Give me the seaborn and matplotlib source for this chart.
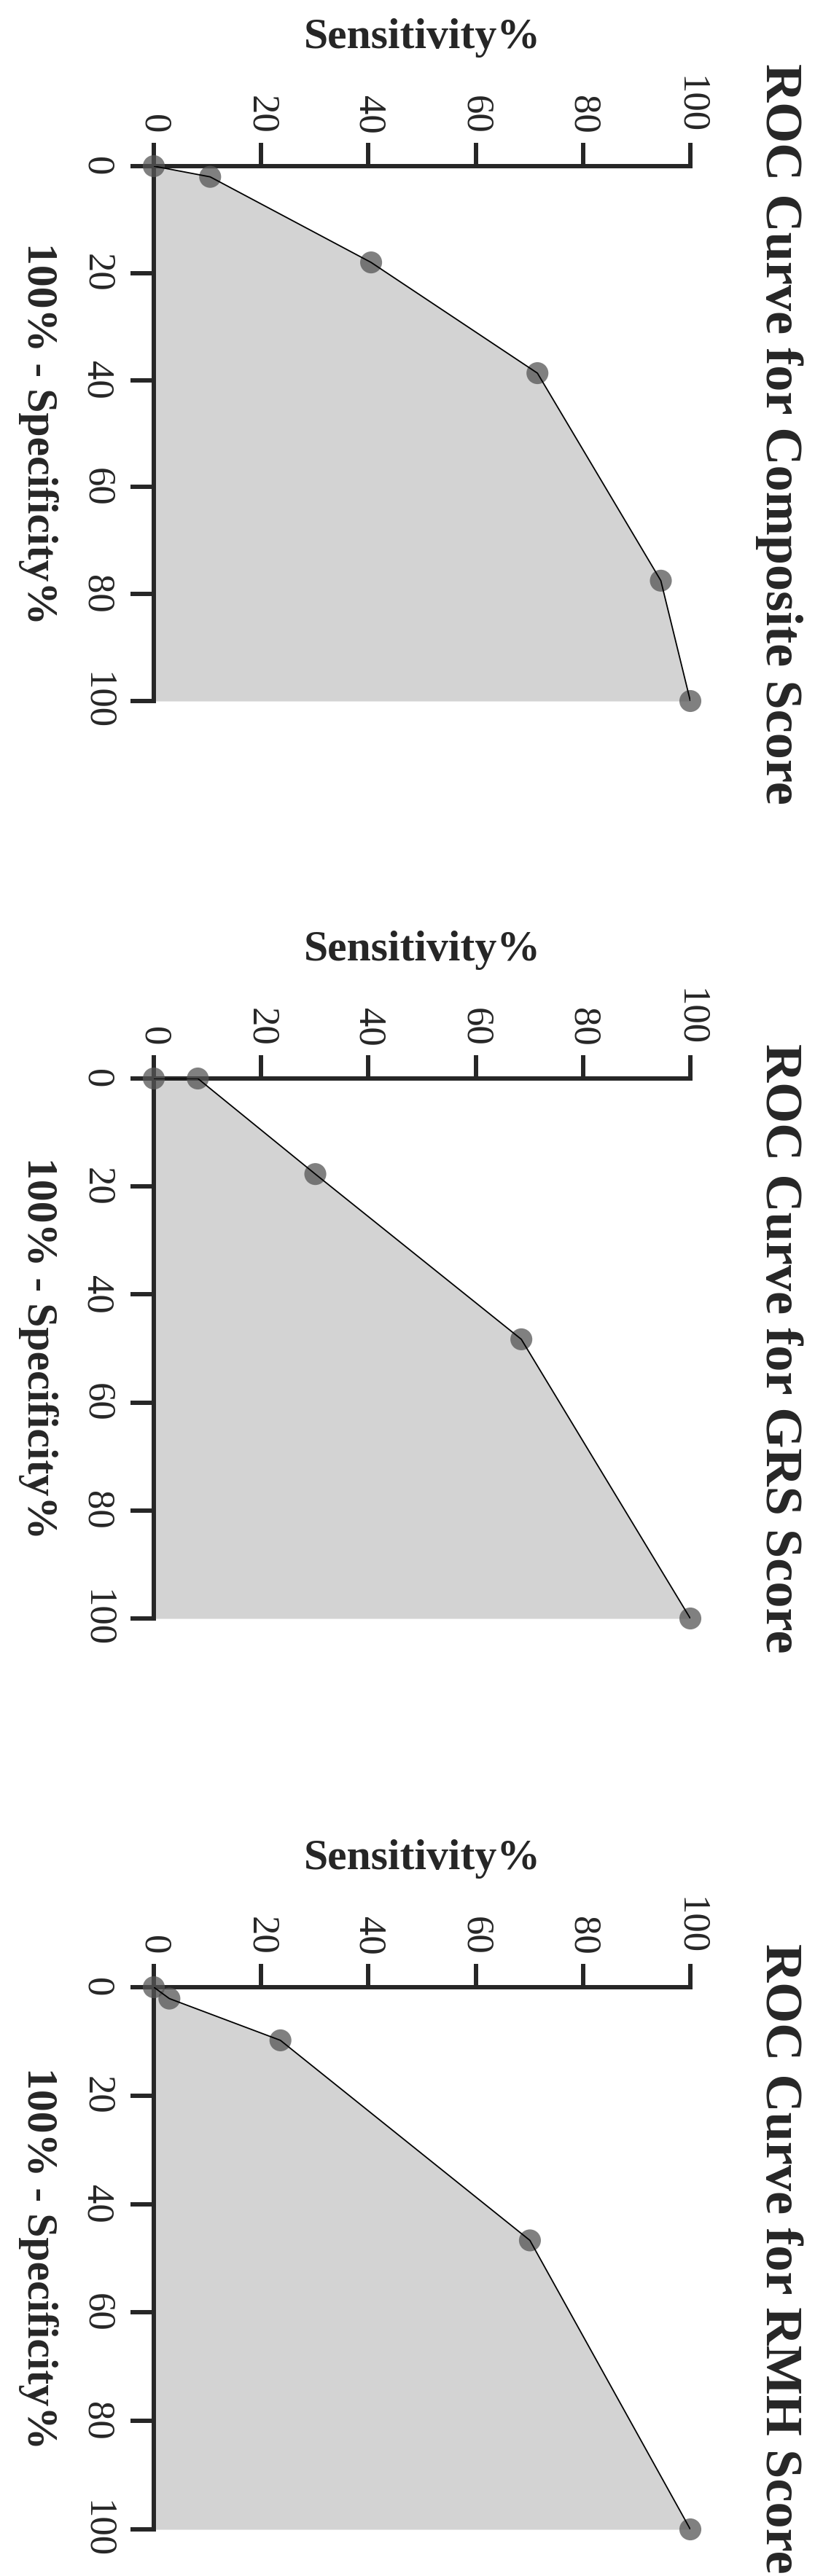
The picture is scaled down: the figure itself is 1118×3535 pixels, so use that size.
import numpy as np
import pandas as pd
import seaborn as sns
import matplotlib.pyplot as plt

# ROC points: 100% - Specificity% and Sensitivity%
titles = ['ROC Curve for Composite Score', 'ROC Curve for GRS Score', 'ROC Curve for RMH Score']

composite_fpr = [0, 2, 18, 38.7, 77.5, 100]
composite_sens = [0, 10.5, 40.5, 71.5, 94.5, 100]

grs_fpr = [0, 0, 17.7, 48.3, 100]
grs_sens = [0, 8.2, 30.1, 68.5, 100]

rmh_fpr = [0, 2.1, 9.8, 46.7, 100]
rmh_sens = [0, 2.9, 23.6, 70.1, 100]

ticks = [0, 20, 40, 60, 80, 100]

curves = [(composite_fpr, composite_sens), (grs_fpr, grs_sens), (rmh_fpr, rmh_sens)]

sns.set_style('ticks')
plt.rcParams['font.family'] = ['Liberation Serif', 'DejaVu Serif']

W, H = 1118, 3535
fig = plt.figure(figsize=(W / 100, H / 100), dpi=100)

# axes boxes in pixels: (left, top, width, height) - the whole chart is turned 90 deg clockwise
boxes = [(211, 228, 736, 734), (211, 1480, 736, 741), (211, 2727, 736, 744)]

for (fpr, sens), title, (l, t, w, h) in zip(curves, titles, boxes):
    ax = fig.add_axes([l / W, 1 - (t + h) / H, w / W, h / H])
    df = pd.DataFrame({'fpr': fpr, 'sens': sens})

    # sensitivity runs left->right, specificity runs top->bottom
    ax.fill_betweenx(df['fpr'], 0, df['sens'], color='lightgray', lw=0, zorder=1)
    sns.scatterplot(data=df, x='sens', y='fpr', ax=ax, s=470, color='#555555',
                    alpha=0.75, edgecolor='none', zorder=3, clip_on=False)
    sns.lineplot(data=df, x='sens', y='fpr', ax=ax, sort=False, estimator=None,
                 color='black', lw=1.3, zorder=4)

    ax.set_xlim(0, 100)
    ax.set_ylim(100, 0)
    ax.set_xticks(ticks)
    ax.set_yticks(ticks)
    ax.xaxis.tick_top()
    ax.xaxis.set_label_position('top')
    for side in ['right', 'bottom']:
        ax.spines[side].set_visible(False)
    for side in ['left', 'top']:
        ax.spines[side].set_linewidth(4.3)
    ax.tick_params(axis='both', length=23, width=4.3, labelsize=38)
    ax.tick_params(axis='x', pad=9, labelrotation=-90)
    ax.tick_params(axis='y', pad=16, labelrotation=-90)
    for lbl in ax.get_yticklabels():
        lbl.set_va('center')
        lbl.set_ha('right')

    ax.set_xlabel('Sensitivity%', fontsize=43, fontweight='bold', va='baseline')
    ax.xaxis.set_label_coords(0.5, 1 + 162 / h)
    ax.set_ylabel('100% - Specificity%', fontsize=43, fontweight='bold',
                  rotation=-90, va='center', ha='center')
    ax.yaxis.set_label_coords((52 - l) / w, 0.5)
    ax.text((1069 - l) / w, 0.5, title, transform=ax.transAxes, rotation=-90,
            ha='center', va='center', fontsize=52, fontweight='bold')

fig.savefig('out.png', dpi=100)
